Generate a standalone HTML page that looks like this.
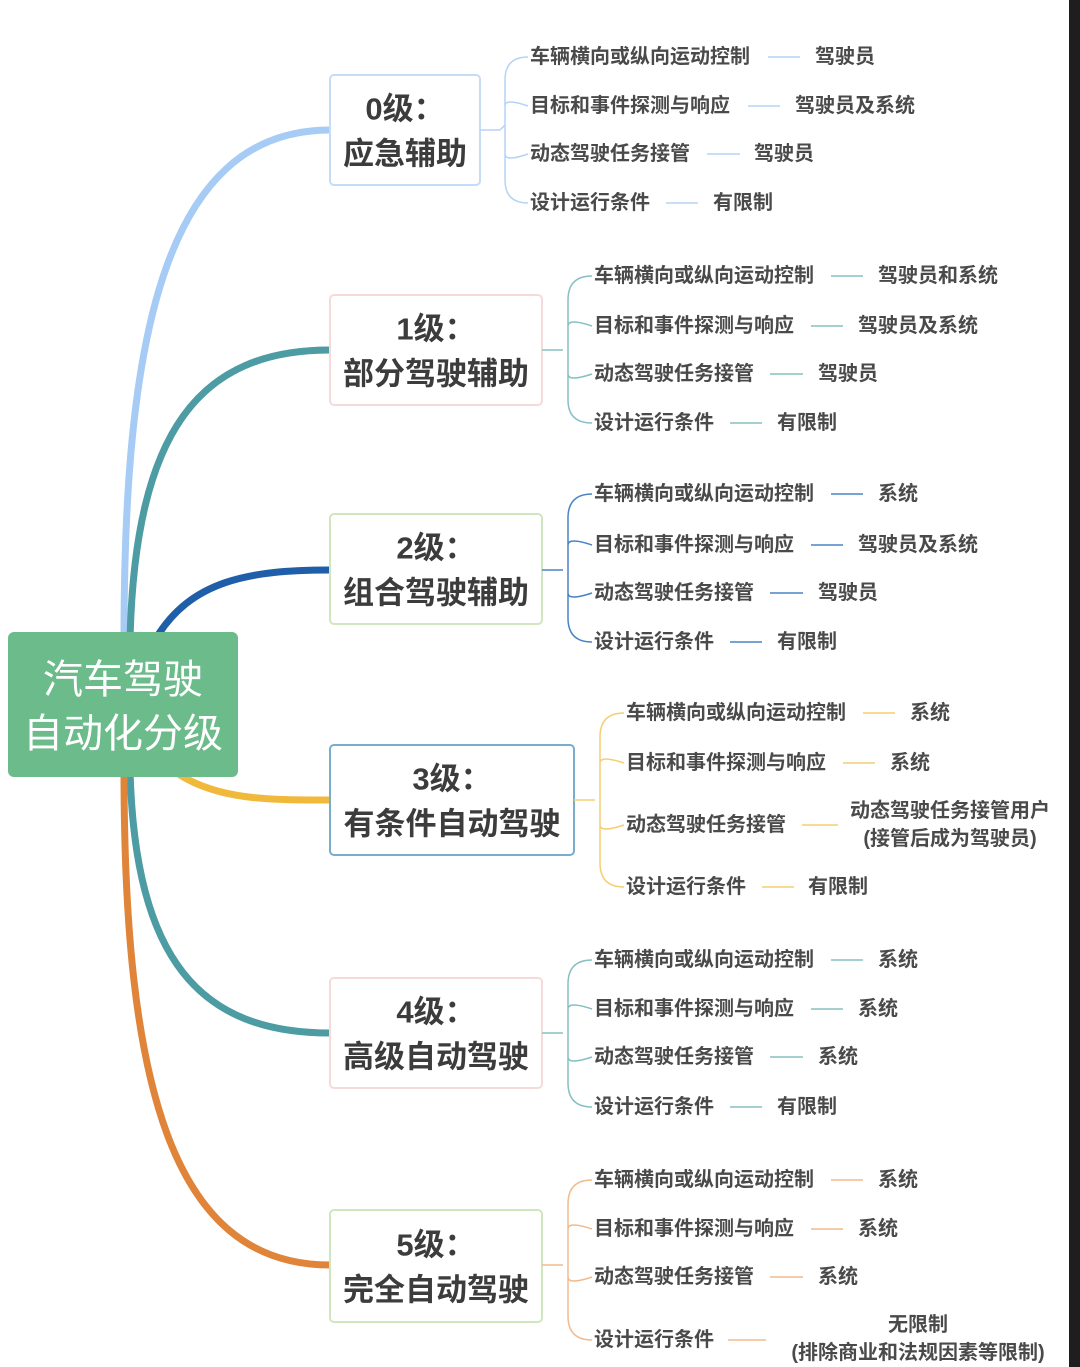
<!DOCTYPE html>
<html><head><meta charset="utf-8"><style>
html,body{margin:0;padding:0;background:#fff;}
svg{display:block;}
text{font-family:"Liberation Sans","Noto Sans CJK SC",sans-serif;}
.t{font-size:20px;font-weight:bold;fill:#4a4a4a;dominant-baseline:central;}
.n{font-size:31px;font-weight:bold;fill:#3c3c3c;text-anchor:middle;dominant-baseline:central;}
</style></head><body>
<svg width="1080" height="1367" viewBox="0 0 1080 1367" xmlns="http://www.w3.org/2000/svg">
<rect x="0" y="0" width="1080" height="1367" fill="#fff"/>
<rect x="1069" y="0" width="11" height="1367" fill="#1e1e1e"/>

<!-- main curves -->
<g fill="none" stroke-width="7" stroke-linecap="round">
<path d="M124,640 C124,350 160,130 330,130" stroke="#a6cbf4"/>
<path d="M130,640 C135,430 200,350 330,350" stroke="#4d9ca4"/>
<path d="M155,640 C190,580 250,570 330,570" stroke="#1f5ea9"/>
<path d="M180,775 C220,800 270,800 330,800" stroke="#f0b93c"/>
<path d="M130,770 C135,960 200,1033 330,1033" stroke="#4d9ca4"/>
<path d="M124,770 C124,1080 170,1265 330,1265" stroke="#e0843a"/>
</g>

<!-- root -->
<rect x="8" y="632" width="230" height="145" rx="6" fill="#6bbb8b"/>
<text x="123" y="680" font-size="40" fill="#fff" text-anchor="middle" dominant-baseline="central">汽车驾驶</text>
<text x="123" y="734" font-size="40" fill="#fff" text-anchor="middle" dominant-baseline="central">自动化分级</text>

<!-- level nodes -->
<rect x="330" y="75" width="150" height="110" rx="4" fill="#fff" stroke="#c4dcf6" stroke-width="2"/>
<text class="n" x="405" y="109">0级：</text><text class="n" x="405" y="154">应急辅助</text>
<rect x="330" y="295" width="212" height="110" rx="4" fill="#fff" stroke="#f5dada" stroke-width="2"/>
<text class="n" x="436" y="329">1级：</text><text class="n" x="436" y="374">部分驾驶辅助</text>
<rect x="330" y="514" width="212" height="110" rx="4" fill="#fff" stroke="#cfe6bf" stroke-width="2"/>
<text class="n" x="436" y="548">2级：</text><text class="n" x="436" y="593">组合驾驶辅助</text>
<rect x="330" y="745" width="244" height="110" rx="4" fill="#fff" stroke="#78aecb" stroke-width="2"/>
<text class="n" x="452" y="779">3级：</text><text class="n" x="452" y="824">有条件自动驾驶</text>
<rect x="330" y="978" width="212" height="110" rx="4" fill="#fff" stroke="#f5dada" stroke-width="2"/>
<text class="n" x="436" y="1012">4级：</text><text class="n" x="436" y="1057">高级自动驾驶</text>
<rect x="330" y="1210" width="212" height="112" rx="4" fill="#fff" stroke="#cfe6bf" stroke-width="2"/>
<text class="n" x="436" y="1245">5级：</text><text class="n" x="436" y="1290">完全自动驾驶</text>

<!-- braces -->
<g fill="none" stroke-width="1.5">
<g stroke="#b5d4f4">
<path d="M480,130 H500 M528,57 Q505,57 505,80 V180 Q505,203 528,203 M505,106 Q505,98 528,106 M505,154 Q505,162 528,154 M500,130 L505,125"/>
<path d="M768,57 H800 M748,106 H780 M707,154 H740 M666,203 H698"/>
</g>
<g stroke="#86c0c4">
<path d="M542,350 H563 M592,276 Q568,276 568,300 V400 Q568,423 592,423 M568,326 Q568,318 592,326 M568,374 Q568,382 592,374"/>
<path d="M831,276 H863 M811,326 H843 M770,374 H803 M730,423 H762"/>
</g>
<g stroke="#4a84c6">
<path d="M542,570 H563 M592,494 Q568,494 568,518 V618 Q568,642 592,642 M568,545 Q568,537 592,545 M568,593 Q568,601 592,593"/>
<path d="M831,494 H863 M811,545 H843 M770,593 H803 M730,642 H762"/>
</g>
<g stroke="#f4cf73">
<path d="M574,800 H595 M624,713 Q600,713 600,737 V863 Q600,887 624,887 M600,763 Q600,755 624,763 M600,825 Q600,833 624,825"/>
<path d="M863,713 H895 M843,763 H875 M802,825 H838 M762,887 H794"/>
</g>
<g stroke="#86c0c4">
<path d="M542,1033 H563 M592,960 Q568,960 568,984 V1083 Q568,1107 592,1107 M568,1009 Q568,1001 592,1009 M568,1057 Q568,1065 592,1057"/>
<path d="M831,960 H863 M811,1009 H843 M770,1057 H803 M730,1107 H762"/>
</g>
<g stroke="#f0bb8e">
<path d="M542,1265 H563 M592,1180 Q568,1180 568,1204 V1316 Q568,1340 592,1340 M568,1229 Q568,1221 592,1229 M568,1277 Q568,1285 592,1277"/>
<path d="M831,1180 H863 M811,1229 H843 M770,1277 H803 M728,1340 H766"/>
</g>
</g>

<!-- L0 -->
<text class="t" x="530" y="57">车辆横向或纵向运动控制</text><text class="t" x="815" y="57">驾驶员</text>
<text class="t" x="530" y="106">目标和事件探测与响应</text><text class="t" x="795" y="106">驾驶员及系统</text>
<text class="t" x="530" y="154">动态驾驶任务接管</text><text class="t" x="754" y="154">驾驶员</text>
<text class="t" x="530" y="203">设计运行条件</text><text class="t" x="713" y="203">有限制</text>
<!-- L1 -->
<text class="t" x="594" y="276">车辆横向或纵向运动控制</text><text class="t" x="878" y="276">驾驶员和系统</text>
<text class="t" x="594" y="326">目标和事件探测与响应</text><text class="t" x="858" y="326">驾驶员及系统</text>
<text class="t" x="594" y="374">动态驾驶任务接管</text><text class="t" x="818" y="374">驾驶员</text>
<text class="t" x="594" y="423">设计运行条件</text><text class="t" x="777" y="423">有限制</text>
<!-- L2 -->
<text class="t" x="594" y="494">车辆横向或纵向运动控制</text><text class="t" x="878" y="494">系统</text>
<text class="t" x="594" y="545">目标和事件探测与响应</text><text class="t" x="858" y="545">驾驶员及系统</text>
<text class="t" x="594" y="593">动态驾驶任务接管</text><text class="t" x="818" y="593">驾驶员</text>
<text class="t" x="594" y="642">设计运行条件</text><text class="t" x="777" y="642">有限制</text>
<!-- L3 -->
<text class="t" x="626" y="713">车辆横向或纵向运动控制</text><text class="t" x="910" y="713">系统</text>
<text class="t" x="626" y="763">目标和事件探测与响应</text><text class="t" x="890" y="763">系统</text>
<text class="t" x="626" y="825">动态驾驶任务接管</text>
<text class="t" x="950" y="811" text-anchor="middle">动态驾驶任务接管用户</text>
<text class="t" x="950" y="839" text-anchor="middle">(接管后成为驾驶员)</text>
<text class="t" x="626" y="887">设计运行条件</text><text class="t" x="808" y="887">有限制</text>
<!-- L4 -->
<text class="t" x="594" y="960">车辆横向或纵向运动控制</text><text class="t" x="878" y="960">系统</text>
<text class="t" x="594" y="1009">目标和事件探测与响应</text><text class="t" x="858" y="1009">系统</text>
<text class="t" x="594" y="1057">动态驾驶任务接管</text><text class="t" x="818" y="1057">系统</text>
<text class="t" x="594" y="1107">设计运行条件</text><text class="t" x="777" y="1107">有限制</text>
<!-- L5 -->
<text class="t" x="594" y="1180">车辆横向或纵向运动控制</text><text class="t" x="878" y="1180">系统</text>
<text class="t" x="594" y="1229">目标和事件探测与响应</text><text class="t" x="858" y="1229">系统</text>
<text class="t" x="594" y="1277">动态驾驶任务接管</text><text class="t" x="818" y="1277">系统</text>
<text class="t" x="594" y="1340">设计运行条件</text>
<text class="t" x="918" y="1325" text-anchor="middle">无限制</text>
<text class="t" x="918" y="1353" text-anchor="middle">(排除商业和法规因素等限制)</text>
</svg>
</body></html>
